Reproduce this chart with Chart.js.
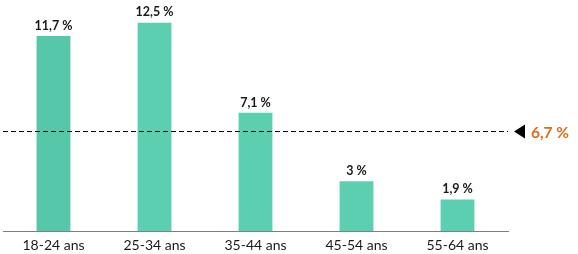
<!DOCTYPE html>
<html>
<head>
<meta charset="utf-8">
<script src="https://cdn.jsdelivr.net/npm/chart.js@4"></script>
<style>
	html, body { margin: 0; padding: 0; background: #fff; }
	#wrap { width: 578px; height: 254px; position: relative; }
</style>
</head>
<body>
<div id="wrap"><canvas id="chart-content"></canvas></div>
<script>
const ageGroups = [ '18-24 ans', '25-34 ans', '35-44 ans', '45-54 ans', '55-64 ans' ];
const rates = [ 11.7, 12.5, 7.1, 3, 1.9 ];
const rateLabels = [ '11,7 %', '12,5 %', '7,1 %', '3 %', '1,9 %' ];
const averageLabel = '6,7 %';
// where the source draws its dashed average line
const averageLine = 6.0;

const barColors = [ '#57c7a9', '#5dcfb1', '#5dcfb1', '#5dcfb1', '#5dcfb1' ];

const overlayPlugin = {
	id: 'overlay',
	afterDatasetsDraw( chart ) {
		const ctx = chart.ctx;
		const area = chart.chartArea;
		const y = chart.scales.y;
		const meta = chart.getDatasetMeta( 0 );

		// value labels above the bars
		ctx.save();
		ctx.fillStyle = '#1a1a1a';
		ctx.font = 'bold 12.5px Lato, "Open Sans", sans-serif';
		ctx.textAlign = 'center';
		ctx.textBaseline = 'bottom';
		meta.data.forEach( ( bar, i ) => {
			ctx.fillText( rateLabels[ i ], bar.x, bar.y - 4 );
		} );
		ctx.restore();

		// dashed average line
		const ly = Math.round( y.getPixelForValue( averageLine ) ) + 0.5;
		ctx.save();
		ctx.strokeStyle = '#000';
		ctx.lineWidth = 1;
		ctx.setLineDash( [ 5, 3 ] );
		ctx.beginPath();
		ctx.moveTo( area.left, ly );
		ctx.lineTo( area.right, ly );
		ctx.stroke();
		ctx.setLineDash( [] );

		// marker and label
		ctx.fillStyle = '#000';
		ctx.beginPath();
		ctx.moveTo( area.right + 6, ly );
		ctx.lineTo( area.right + 17, ly - 7 );
		ctx.lineTo( area.right + 17, ly + 7 );
		ctx.closePath();
		ctx.fill();

		ctx.fillStyle = '#e26b17';
		ctx.font = 'bold 15.5px Lato, "Open Sans", sans-serif';
		ctx.textAlign = 'left';
		ctx.textBaseline = 'middle';
		ctx.fillText( averageLabel, area.right + 23, ly + 1 );
		ctx.restore();
	},
};

const canvas = document.getElementById( 'chart-content' );
const chart = new Chart( canvas, {
	type: 'bar',
	data: {
		labels: ageGroups,
		datasets: [
			{
				data: rates,
				backgroundColor: barColors,
				borderWidth: 0,
				categoryPercentage: 1,
				barPercentage: 0.335,
			},
		],
	},
	options: {
		responsive: true,
		maintainAspectRatio: false,
		animation: false,
		layout: {
			padding: { left: 3, right: 70, top: 6, bottom: -6 },
		},
		plugins: {
			legend: { display: false },
			tooltip: { enabled: false },
		},
		scales: {
			x: {
				grid: { display: false, drawTicks: false },
				border: { display: true, color: '#7f7f7f', width: 1 },
				ticks: {
					color: '#1a1a1a',
					padding: 6,
					font: { size: 14, family: 'Lato, "Open Sans", sans-serif' },
				},
			},
			y: {
				display: false,
				min: 0,
				max: 13.5,
			},
		},
	},
	plugins: [ overlayPlugin ],
} );
</script>
</body>
</html>
